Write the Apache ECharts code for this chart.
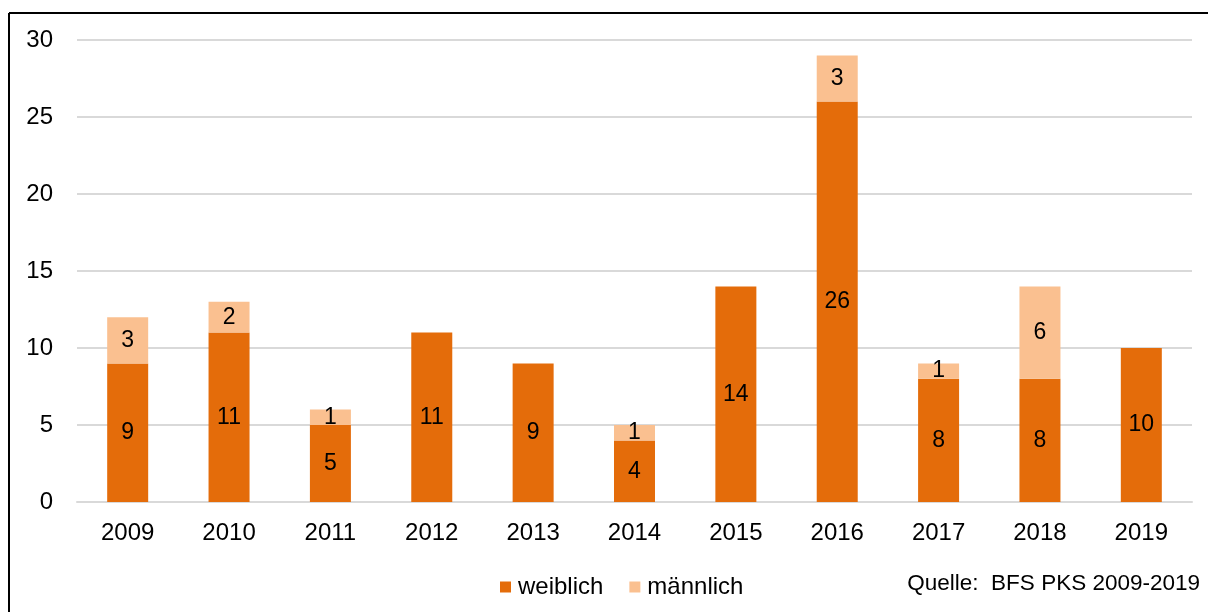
<!DOCTYPE html>
<html>
<head>
<meta charset="utf-8">
<script src="https://cdn.jsdelivr.net/npm/echarts@6/dist/echarts.min.js"></script>
<style>
html,body{margin:0;padding:0;background:#fff;}
#chart{width:1208px;height:612px;}
</style>
</head>
<body>
<div id="chart"></div>
<script>
const categories = ['2009','2010','2011','2012','2013','2014','2015','2016','2017','2018','2019'];
const weiblich = [9, 11, 5, 11, 9, 4, 14, 26, 8, 8, 10];
const maennlich = [3, 2, 1, 0, 0, 1, 0, 3, 1, 6, 0];
const yTicks = [0, 5, 10, 15, 20, 25, 30];
const sourceText = 'Quelle:  BFS PKS 2009-2019';

const FONT = "'Liberation Sans', Arial, sans-serif";
const chart = echarts.init(document.getElementById('chart'), null, {renderer: 'canvas'});

const labelStyle = {
  show: true,
  position: 'inside',
  color: '#000',
  fontSize: 23,
  fontFamily: FONT,
  formatter: p => (p.value ? String(p.value) : '')
};

chart.setOption({
  animation: false,
  backgroundColor: '#fff',
  textStyle: {fontFamily: FONT},
  grid: {left: 77, right: 16, top: 40, bottom: 110, containLabel: false},
  legend: {
    left: 495, top: 570,
    itemWidth: 11, itemHeight: 11, itemGap: 26,
    textStyle: {fontSize: 24, color: '#000', fontFamily: FONT, padding: [0, 0, 0, 2]},
    icon: 'rect',
    data: ['weiblich', 'männlich']
  },
  xAxis: {
    type: 'category',
    data: categories,
    axisLine: {show: true, lineStyle: {color: '#d9d9d9', width: 2}},
    axisTick: {show: false},
    axisLabel: {color: '#000', fontSize: 24, fontFamily: FONT, margin: 19}
  },
  yAxis: {
    type: 'value',
    min: yTicks[0], max: yTicks[yTicks.length - 1], interval: 5,
    axisLine: {show: false},
    axisTick: {show: false},
    splitLine: {lineStyle: {color: '#d9d9d9', width: 2}},
    axisLabel: {color: '#000', fontSize: 24, fontFamily: FONT, margin: 24}
  },
  series: [
    {
      name: 'weiblich', type: 'bar', stack: 'total', barWidth: 41,
      itemStyle: {color: '#E46C0A'},
      label: labelStyle,
      data: weiblich
    },
    {
      name: 'männlich', type: 'bar', stack: 'total', barWidth: 41,
      itemStyle: {color: '#FAC090'},
      label: labelStyle,
      data: maennlich
    }
  ],
  graphic: [
    {type: 'line', shape: {x1: 9, y1: 13, x2: 1208, y2: 13}, style: {stroke: '#000', lineWidth: 2}},
    {type: 'line', shape: {x1: 9, y1: 13, x2: 9, y2: 612}, style: {stroke: '#000', lineWidth: 2}},
    {type: 'text', right: 8, top: 572, style: {text: sourceText, fill: '#000', fontSize: 22.5, fontFamily: FONT}}
  ]
});
</script>
</body>
</html>
